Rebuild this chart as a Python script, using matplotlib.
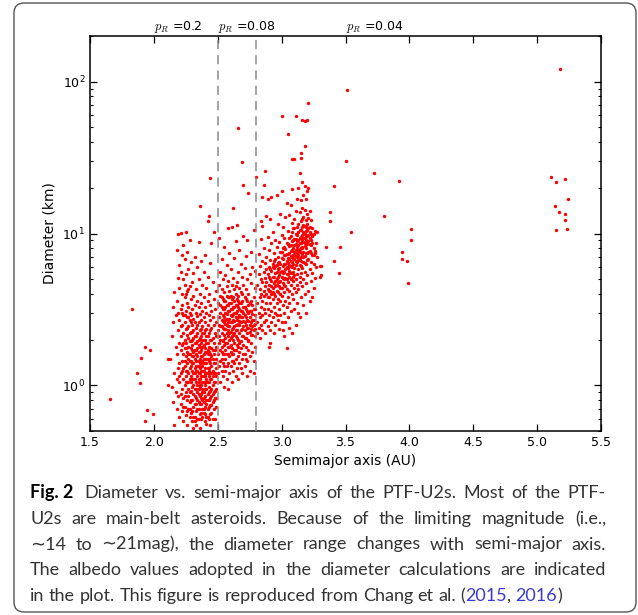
import matplotlib
matplotlib.use("Agg")
import matplotlib.pyplot as plt
from matplotlib.patches import FancyBboxPatch
from matplotlib.transforms import blended_transform_factory

# (semimajor axis [AU], diameter [km])
inner_belt = [
    (2.13, 1.5), (2.14, 2.1), (2.14, 0.98), (2.15, 3.3), (2.15, 0.78), (2.15, 2.6), (2.16, 1.2), (2.16, 0.55),
    (2.16, 4.1), (2.17, 1.8), (2.17, 0.9), (2.17, 2.9),
    (2.18, 1.1), (2.18, 3.6), (2.18, 7.8), (2.18, 1.6), (2.18, 0.7), (2.19, 2.3), (2.19, 5.1), (2.19, 1.3),
    (2.19, 0.85), (2.19, 3.0), (2.19, 9.9), (2.20, 1.9), (2.20, 0.62), (2.20, 4.4), (2.20, 1.05), (2.20, 2.7),
    (2.20, 6.2), (2.20, 1.4),
    (2.21, 0.75), (2.21, 1.7), (2.21, 3.2), (2.21, 10.1), (2.21, 2.1), (2.21, 1.2), (2.21, 5.6), (2.22, 0.95),
    (2.22, 2.5), (2.22, 1.45), (2.22, 4.0), (2.22, 0.68), (2.22, 7.2), (2.22, 1.85), (2.22, 3.4), (2.23, 1.1),
    (2.23, 2.9), (2.23, 0.82), (2.23, 1.6), (2.23, 5.0), (2.23, 2.2), (2.23, 1.3), (2.23, 8.4), (2.23, 0.58),
    (2.24, 1.75), (2.24, 3.8), (2.24, 1.0), (2.24, 2.6), (2.24, 0.72), (2.24, 1.35), (2.24, 4.6), (2.24, 2.0),
    (2.24, 6.8), (2.25, 1.15), (2.25, 0.9), (2.25, 3.1), (2.25, 1.55), (2.25, 2.35), (2.25, 0.64), (2.25, 5.4),
    (2.25, 1.9), (2.25, 10.3), (2.25, 1.25), (2.26, 2.8), (2.26, 0.8), (2.26, 1.65), (2.26, 4.2), (2.26, 1.05),
    (2.26, 2.15), (2.26, 3.5), (2.26, 0.55), (2.26, 1.4), (2.26, 7.5),
    (2.27, 0.95), (2.27, 1.8), (2.27, 2.45), (2.27, 1.2), (2.27, 3.3), (2.27, 0.7), (2.27, 5.8), (2.27, 1.5),
    (2.27, 2.05), (2.27, 0.85), (2.28, 1.1), (2.28, 2.7), (2.28, 1.6), (2.28, 4.5), (2.28, 0.62), (2.28, 1.3),
    (2.28, 3.0), (2.28, 1.95), (2.28, 0.78), (2.28, 9.0), (2.29, 1.45), (2.29, 2.25), (2.29, 0.92), (2.29, 3.7),
    (2.29, 1.15), (2.29, 1.75), (2.29, 0.66), (2.29, 2.9), (2.29, 6.5), (2.29, 1.35),
    (2.30, 0.8), (2.30, 1.25), (2.30, 2.0), (2.30, 1.55), (2.30, 3.2), (2.30, 0.98), (2.30, 4.8), (2.30, 0.58),
    (2.30, 2.5), (2.30, 1.1), (2.30, 1.85), (2.31, 1.4), (2.31, 0.72), (2.31, 2.3), (2.31, 1.0), (2.31, 3.9),
    (2.31, 1.65), (2.31, 0.88), (2.31, 2.75), (2.31, 1.2), (2.31, 5.5), (2.31, 0.52), (2.32, 1.3), (2.32, 2.1),
    (2.32, 0.95), (2.32, 1.7), (2.32, 3.4), (2.32, 0.75), (2.32, 1.1), (2.32, 2.6), (2.32, 1.5), (2.32, 7.0),
    (2.32, 0.62),
    (2.33, 1.05), (2.33, 1.9), (2.33, 0.82), (2.33, 1.45), (2.33, 2.4), (2.33, 3.0), (2.33, 0.68), (2.33, 1.25),
    (2.33, 4.3), (2.33, 1.6), (2.33, 0.55), (2.34, 1.15), (2.34, 2.2), (2.34, 0.9), (2.34, 1.35), (2.34, 1.75),
    (2.34, 2.85), (2.34, 0.7), (2.34, 1.0), (2.34, 3.6), (2.34, 6.0), (2.34, 1.55), (2.35, 0.78), (2.35, 1.2),
    (2.35, 2.0), (2.35, 0.95), (2.35, 1.45), (2.35, 2.6), (2.35, 0.6), (2.35, 1.65), (2.35, 3.3), (2.35, 1.05),
    (2.35, 5.0), (2.35, 8.8), (2.36, 15.1),
    (2.36, 1.3), (2.36, 0.85), (2.36, 1.8), (2.36, 1.1), (2.36, 2.3), (2.36, 0.65), (2.36, 1.5), (2.36, 2.95),
    (2.36, 0.98), (2.36, 4.0), (2.36, 1.2), (2.36, 0.52), (2.37, 1.7), (2.37, 0.75), (2.37, 1.0), (2.37, 2.1),
    (2.37, 1.4), (2.37, 2.7), (2.37, 0.88), (2.37, 1.25), (2.37, 3.5), (2.37, 0.6), (2.37, 6.6), (2.37, 1.9),
    (2.38, 1.15), (2.38, 0.8), (2.38, 1.55), (2.38, 2.45), (2.38, 0.95), (2.38, 1.35), (2.38, 3.1), (2.38, 0.7),
    (2.38, 1.8), (2.38, 4.6), (2.38, 2.0), (2.38, 1.05),
    (2.39, 1.25), (2.39, 0.9), (2.39, 1.6), (2.39, 2.2), (2.39, 0.66), (2.39, 1.05), (2.39, 2.8), (2.39, 1.4),
    (2.39, 3.8), (2.39, 0.78), (2.39, 1.85), (2.39, 5.6), (2.40, 1.15), (2.40, 0.85), (2.40, 1.5), (2.40, 2.0),
    (2.40, 0.58), (2.40, 1.3), (2.40, 2.6), (2.40, 1.0), (2.40, 3.3), (2.40, 1.75), (2.40, 0.72), (2.40, 7.2),
    (2.41, 1.2), (2.41, 0.95), (2.41, 1.65), (2.41, 2.35), (2.41, 0.8), (2.41, 1.4), (2.41, 3.0), (2.41, 1.1),
    (2.41, 4.4), (2.41, 0.62), (2.41, 1.9),
    (2.42, 1.3), (2.42, 0.88), (2.42, 1.7), (2.42, 2.5), (2.42, 1.05), (2.42, 0.7), (2.42, 2.1), (2.42, 3.6),
    (2.42, 1.5), (2.42, 12.0), (2.42, 5.2), (2.43, 1.15), (2.43, 0.8), (2.43, 1.45), (2.43, 2.2), (2.43, 0.98),
    (2.43, 2.9), (2.43, 1.8), (2.43, 0.6), (2.43, 4.0), (2.43, 13.1), (2.43, 1.25), (2.44, 1.6), (2.44, 0.92),
    (2.44, 2.0), (2.44, 1.2), (2.44, 2.7), (2.44, 0.74), (2.44, 3.4), (2.44, 1.4), (2.44, 23.2), (2.44, 6.4),
    (2.44, 0.55),
    (2.45, 1.1), (2.45, 1.75), (2.45, 0.85), (2.45, 2.4), (2.45, 1.35), (2.45, 3.1), (2.45, 0.66), (2.45, 8.6),
    (2.46, 1.5), (2.46, 1.0), (2.46, 2.05), (2.46, 0.78), (2.46, 2.8), (2.46, 1.25), (2.46, 4.8), (2.47, 1.2),
    (2.47, 1.9), (2.47, 0.9), (2.47, 2.5), (2.47, 0.7), (2.47, 3.7), (2.47, 1.6), (2.47, 10.2), (2.48, 1.05),
    (2.48, 1.4), (2.48, 2.2), (2.48, 0.82), (2.48, 3.2), (2.48, 0.6), (2.49, 1.3), (2.49, 1.8), (2.49, 0.95),
    (2.49, 2.6), (2.49, 0.72), (2.49, 4.2), (2.49, 1.15),
]

# densest part of the inner belt
inner_core = [
    (2.20, 1.15), (2.21, 2.45), (2.21, 0.88), (2.22, 1.25), (2.22, 3.0), (2.23, 0.72), (2.23, 1.9), (2.24, 1.45),
    (2.24, 2.9), (2.24, 0.85), (2.25, 1.75), (2.25, 4.0), (2.25, 1.05), (2.26, 2.4), (2.26, 0.68), (2.26, 1.25),
    (2.27, 1.6), (2.27, 2.8), (2.27, 1.05), (2.27, 4.3), (2.28, 0.9), (2.28, 2.2), (2.28, 1.45), (2.28, 0.7),
    (2.29, 1.95), (2.29, 1.05), (2.29, 2.6), (2.29, 0.8), (2.30, 1.4), (2.30, 0.68), (2.30, 2.25), (2.30, 1.7),
    (2.31, 1.1), (2.31, 0.62), (2.31, 1.55), (2.31, 2.05), (2.32, 0.85), (2.32, 1.2), (2.32, 1.9), (2.32, 0.58),
    (2.33, 1.35), (2.33, 0.75), (2.33, 2.1), (2.33, 0.95), (2.33, 1.7), (2.34, 0.8), (2.34, 1.25), (2.34, 1.95),
    (2.34, 0.6), (2.34, 2.5), (2.35, 1.1), (2.35, 0.7), (2.35, 1.35), (2.35, 1.85), (2.35, 0.88), (2.36, 1.0),
    (2.36, 1.4), (2.36, 0.75), (2.36, 1.65), (2.36, 2.05), (2.37, 1.15), (2.37, 0.82), (2.37, 1.55), (2.37, 0.66),
    (2.37, 2.35), (2.38, 1.25), (2.38, 0.9), (2.38, 1.45), (2.38, 0.62), (2.38, 2.2), (2.39, 1.15), (2.39, 0.82),
    (2.39, 1.5), (2.39, 0.7), (2.39, 2.0), (2.40, 1.2), (2.40, 0.95), (2.40, 1.65), (2.40, 0.65), (2.40, 2.3),
    (2.41, 1.05), (2.41, 0.75), (2.41, 1.5), (2.41, 2.1), (2.41, 0.56), (2.42, 1.2), (2.42, 0.8), (2.42, 1.6),
    (2.42, 0.62), (2.42, 1.9), (2.43, 1.05), (2.43, 0.72), (2.43, 1.3), (2.43, 1.65), (2.43, 0.9), (2.44, 1.1),
    (2.44, 0.82), (2.44, 1.5), (2.44, 0.65), (2.44, 2.3), (2.45, 1.2), (2.45, 0.95), (2.45, 1.55), (2.45, 0.74),
    (2.45, 2.0), (2.46, 1.15), (2.46, 0.88), (2.46, 1.7), (2.46, 0.6), (2.47, 1.05), (2.47, 1.4), (2.47, 0.8),
    (2.48, 1.2), (2.48, 1.7), (2.48, 0.92), (2.49, 1.5), (2.49, 2.1), (2.49, 0.82),
]

middle_belt = [
    (2.50, 2.3), (2.50, 1.6), (2.50, 3.5), (2.50, 1.2), (2.51, 2.8), (2.51, 1.9), (2.51, 4.6), (2.51, 1.35),
    (2.51, 2.1), (2.51, 9.4), (2.52, 3.0), (2.52, 1.05), (2.52, 2.45), (2.52, 1.7), (2.52, 5.6), (2.52, 3.9),
    (2.52, 1.45),
    (2.53, 2.2), (2.53, 1.25), (2.53, 3.3), (2.53, 1.8), (2.53, 2.7), (2.53, 4.3), (2.53, 1.5), (2.53, 6.8),
    (2.54, 2.0), (2.54, 2.9), (2.54, 1.15), (2.54, 3.7), (2.54, 1.6), (2.54, 2.4), (2.54, 5.0), (2.54, 1.95),
    (2.55, 2.6), (2.55, 1.35), (2.55, 3.2), (2.55, 1.85), (2.55, 4.1), (2.55, 0.98), (2.55, 2.15), (2.55, 8.2),
    (2.55, 2.8),
    (2.56, 2.35), (2.56, 1.7), (2.56, 3.0), (2.56, 1.25), (2.56, 3.6), (2.56, 2.05), (2.56, 5.3), (2.56, 1.5),
    (2.56, 2.7), (2.57, 1.9), (2.57, 2.5), (2.57, 3.4), (2.57, 1.1), (2.57, 4.5), (2.57, 2.2), (2.57, 1.6),
    (2.57, 2.95), (2.57, 6.2), (2.58, 2.1), (2.58, 3.8), (2.58, 1.4), (2.58, 2.6), (2.58, 1.8), (2.58, 3.1),
    (2.58, 0.95), (2.58, 4.9), (2.58, 2.3), (2.58, 10.8),
    (2.59, 2.75), (2.59, 1.55), (2.59, 3.5), (2.59, 2.0), (2.59, 1.2), (2.59, 4.2), (2.59, 2.45), (2.59, 7.4),
    (2.60, 1.85), (2.60, 2.9), (2.60, 3.9), (2.60, 1.35), (2.60, 2.25), (2.60, 5.8), (2.60, 1.65), (2.60, 3.2),
    (2.61, 2.6), (2.61, 1.45), (2.61, 3.7), (2.61, 2.1), (2.61, 1.05), (2.61, 4.6), (2.61, 2.85), (2.61, 11.0),
    (2.61, 1.75),
    (2.62, 2.4), (2.62, 3.3), (2.62, 1.6), (2.62, 5.1), (2.62, 2.0), (2.62, 14.7), (2.62, 1.25), (2.62, 2.95),
    (2.63, 3.6), (2.63, 1.9), (2.63, 2.65), (2.63, 1.4), (2.63, 4.3), (2.63, 2.2), (2.63, 6.9), (2.63, 3.0),
    (2.64, 2.5), (2.64, 1.7), (2.64, 3.4), (2.64, 1.15), (2.64, 2.1), (2.64, 4.0), (2.64, 2.8), (2.64, 8.9),
    (2.64, 1.5),
    (2.65, 3.1), (2.65, 2.3), (2.65, 1.85), (2.65, 4.8), (2.65, 1.3), (2.65, 2.7), (2.65, 3.7), (2.65, 11.3),
    (2.66, 2.0), (2.66, 3.3), (2.66, 1.55), (2.66, 2.55), (2.66, 5.6), (2.66, 1.1), (2.66, 3.9), (2.66, 49.7),
    (2.67, 2.2), (2.67, 2.9), (2.67, 1.65), (2.67, 4.4), (2.67, 1.4), (2.67, 3.5), (2.67, 7.8), (2.67, 2.5),
    (2.68, 1.95), (2.68, 3.1), (2.68, 2.6), (2.68, 1.3), (2.68, 4.1), (2.68, 6.3), (2.68, 1.75), (2.69, 2.35),
    (2.69, 3.6), (2.69, 1.5), (2.69, 2.8), (2.69, 5.2), (2.69, 29.4), (2.69, 1.2), (2.70, 2.1), (2.70, 3.3),
    (2.70, 1.85), (2.70, 4.6), (2.70, 2.65), (2.70, 21.0), (2.70, 9.6),
    (2.71, 2.9), (2.71, 1.6), (2.71, 3.8), (2.71, 2.3), (2.71, 5.9), (2.71, 1.35), (2.72, 2.5), (2.72, 3.2),
    (2.72, 1.8), (2.72, 4.3), (2.72, 2.05), (2.72, 7.1), (2.73, 2.7), (2.73, 1.45), (2.73, 3.6), (2.73, 2.2),
    (2.73, 5.0), (2.73, 1.15), (2.73, 9.0),
    (2.74, 2.4), (2.74, 3.0), (2.74, 1.7), (2.74, 4.0), (2.74, 18.5), (2.74, 2.0), (2.75, 2.8), (2.75, 3.5),
    (2.75, 1.55), (2.75, 2.25), (2.75, 5.4), (2.75, 1.25), (2.76, 2.6), (2.76, 3.1), (2.76, 1.9), (2.76, 4.7),
    (2.76, 2.15), (2.76, 7.6),
    (2.77, 2.45), (2.77, 3.4), (2.77, 1.65), (2.77, 2.95), (2.77, 6.0), (2.78, 2.3), (2.78, 3.8), (2.78, 1.45),
    (2.78, 2.7), (2.78, 10.5), (2.78, 1.2), (2.79, 2.55), (2.79, 3.2), (2.79, 1.8), (2.79, 4.4), (2.79, 2.1),
    (2.79, 5.7), (2.80, 23.5),
]

middle_core = [
    (2.51, 2.5), (2.52, 2.0), (2.52, 3.4), (2.53, 2.45), (2.53, 3.8), (2.53, 1.65), (2.54, 2.65), (2.54, 3.2),
    (2.54, 1.4), (2.55, 2.35), (2.55, 3.6), (2.55, 1.6), (2.56, 2.55), (2.56, 3.3), (2.56, 1.9), (2.57, 2.75),
    (2.57, 3.9), (2.57, 1.35), (2.58, 2.45), (2.58, 3.4), (2.58, 1.6), (2.59, 2.2), (2.59, 3.1), (2.59, 1.8),
    (2.59, 3.8), (2.60, 2.6), (2.60, 3.5), (2.60, 2.05), (2.61, 2.35), (2.61, 3.2), (2.61, 1.6), (2.62, 2.7),
    (2.62, 3.8), (2.62, 2.15), (2.62, 1.45), (2.63, 2.45), (2.63, 3.3), (2.63, 1.7), (2.64, 3.0), (2.64, 2.3),
    (2.64, 4.5), (2.65, 2.5), (2.65, 3.4), (2.65, 2.05), (2.66, 2.8), (2.66, 3.6), (2.66, 1.8), (2.67, 2.65),
    (2.67, 3.2), (2.67, 1.9), (2.68, 2.3), (2.68, 3.5), (2.68, 2.8), (2.69, 2.1), (2.69, 3.1), (2.69, 4.0),
    (2.70, 2.45), (2.70, 3.0), (2.70, 1.6), (2.71, 2.6), (2.71, 3.3), (2.71, 2.05), (2.72, 2.8), (2.72, 3.7),
    (2.72, 1.5), (2.73, 2.4), (2.73, 3.1), (2.74, 2.65), (2.74, 3.4), (2.74, 1.95), (2.75, 2.5), (2.75, 3.1),
    (2.76, 2.35), (2.76, 3.6), (2.77, 2.15), (2.77, 2.7), (2.78, 2.5), (2.78, 3.2), (2.79, 2.9), (2.79, 2.35),
]

outer_belt = [
    (2.81, 2.6), (2.81, 3.5), (2.81, 4.6), (2.81, 2.2), (2.82, 3.0), (2.82, 5.4), (2.82, 2.4), (2.82, 7.3),
    (2.83, 3.8), (2.83, 2.8), (2.83, 4.3), (2.83, 2.05), (2.83, 6.1), (2.84, 3.3), (2.84, 5.0), (2.84, 2.5),
    (2.84, 12.0), (2.84, 4.0), (2.84, 9.2),
    (2.85, 3.6), (2.85, 2.3), (2.85, 4.8), (2.85, 6.6), (2.85, 17.5), (2.85, 2.9), (2.85, 11.2), (2.86, 3.2),
    (2.86, 5.6), (2.86, 4.2), (2.86, 2.6), (2.86, 8.0), (2.86, 21.0), (2.86, 3.9), (2.87, 4.5), (2.87, 3.0),
    (2.87, 6.4), (2.87, 2.2), (2.87, 25.7), (2.87, 5.1), (2.88, 3.5), (2.88, 4.8), (2.88, 2.7), (2.88, 7.0),
    (2.88, 13.0), (2.88, 4.0),
    (2.89, 5.4), (2.89, 3.2), (2.89, 4.3), (2.89, 2.45), (2.89, 9.5), (2.89, 17.0), (2.90, 3.8), (2.90, 6.0),
    (2.90, 4.6), (2.90, 2.9), (2.90, 1.8), (2.90, 7.8), (2.91, 5.0), (2.91, 3.5), (2.91, 4.2), (2.91, 2.3),
    (2.91, 6.7), (2.91, 12.5), (2.91, 1.9), (2.92, 4.0), (2.92, 5.7), (2.92, 3.1), (2.92, 8.6), (2.92, 2.6),
    (2.92, 4.9), (2.92, 17.3),
    (2.93, 3.7), (2.93, 5.2), (2.93, 4.4), (2.93, 2.8), (2.93, 6.3), (2.93, 10.2), (2.94, 4.7), (2.94, 3.3),
    (2.94, 5.9), (2.94, 2.2), (2.94, 7.4), (2.94, 4.0), (2.95, 5.5), (2.95, 3.9), (2.95, 3.0), (2.95, 6.8),
    (2.95, 4.5), (2.95, 9.0), (2.95, 2.5), (2.96, 4.2), (2.96, 5.0), (2.96, 3.5), (2.96, 6.2), (2.96, 2.9),
    (2.96, 8.2), (2.96, 18.0),
    (2.97, 4.8), (2.97, 3.7), (2.97, 5.8), (2.97, 2.7), (2.97, 7.0), (2.97, 4.1), (2.97, 11.5), (2.98, 5.3),
    (2.98, 3.2), (2.98, 4.5), (2.98, 6.5), (2.98, 2.35), (2.98, 8.8), (2.99, 4.0), (2.99, 5.6), (2.99, 3.6),
    (2.99, 7.6), (2.99, 2.9), (2.99, 4.9), (2.99, 13.5), (3.00, 5.2), (3.00, 3.9), (3.00, 6.9), (3.00, 4.4),
    (3.00, 2.6), (3.00, 9.8), (3.00, 59.8), (3.00, 19.0),
    (3.01, 4.7), (3.01, 6.1), (3.01, 3.4), (3.01, 8.0), (3.01, 5.5), (3.01, 2.3), (3.01, 11.0), (3.02, 5.0),
    (3.02, 4.1), (3.02, 7.2), (3.02, 3.0), (3.02, 6.3), (3.02, 9.4), (3.02, 2.1), (3.03, 5.8), (3.03, 4.5),
    (3.03, 3.6), (3.03, 7.9), (3.03, 5.1), (3.03, 12.8), (3.03, 2.6), (3.04, 6.6), (3.04, 4.3), (3.04, 5.4),
    (3.04, 3.3), (3.04, 8.6), (3.04, 1.75), (3.04, 16.0),
    (3.05, 5.9), (3.05, 4.8), (3.05, 7.3), (3.05, 3.8), (3.05, 10.4), (3.05, 6.4), (3.05, 45.4), (3.05, 2.8),
    (3.06, 5.2), (3.06, 6.8), (3.06, 4.2), (3.06, 8.3), (3.06, 3.5), (3.06, 5.7), (3.06, 13.2), (3.06, 2.4),
    (3.07, 6.1), (3.07, 4.6), (3.07, 7.7), (3.07, 5.0), (3.07, 9.6), (3.07, 3.1), (3.07, 15.5), (3.07, 6.6),
    (3.08, 5.5), (3.08, 7.0), (3.08, 4.0), (3.08, 8.9), (3.08, 6.0), (3.08, 11.8), (3.08, 30.8), (3.08, 2.2),
    (3.08, 19.5),
    (3.09, 6.3), (3.09, 4.9), (3.09, 8.0), (3.09, 5.6), (3.09, 10.8), (3.09, 3.7), (3.09, 7.2), (3.10, 6.8),
    (3.10, 5.3), (3.10, 9.2), (3.10, 4.4), (3.10, 7.6), (3.10, 12.5), (3.10, 3.2), (3.10, 30.8), (3.10, 5.9),
    (3.11, 7.1), (3.11, 5.0), (3.11, 8.5), (3.11, 6.2), (3.11, 14.0), (3.11, 4.1), (3.11, 59.8), (3.11, 10.0),
    (3.11, 2.5), (3.12, 6.5), (3.12, 8.2), (3.12, 5.4), (3.12, 9.8), (3.12, 4.6), (3.12, 17.0), (3.12, 7.4),
    (3.12, 3.5),
    (3.13, 7.8), (3.13, 5.8), (3.13, 9.0), (3.13, 6.7), (3.13, 11.5), (3.13, 4.3), (3.13, 20.0), (3.13, 3.0),
    (3.14, 6.9), (3.14, 8.6), (3.14, 5.2), (3.14, 10.5), (3.14, 7.5), (3.14, 13.8), (3.14, 4.8), (3.14, 25.0),
    (3.14, 2.8), (3.15, 8.0), (3.15, 6.1), (3.15, 9.5), (3.15, 7.0), (3.15, 12.0), (3.15, 5.5), (3.15, 34.0),
    (3.15, 31.6), (3.15, 16.5), (3.15, 3.8), (3.16, 7.3), (3.16, 9.1), (3.16, 5.9), (3.16, 11.0), (3.16, 8.2),
    (3.16, 14.8), (3.16, 4.5), (3.16, 22.0), (3.16, 56.0),
    (3.17, 8.8), (3.17, 6.5), (3.17, 10.2), (3.17, 7.6), (3.17, 12.8), (3.17, 5.0), (3.17, 18.0), (3.17, 3.4),
    (3.18, 9.4), (3.18, 7.1), (3.18, 11.2), (3.18, 5.6), (3.18, 8.3), (3.18, 14.2), (3.18, 37.5), (3.18, 55.5),
    (3.18, 4.0), (3.18, 20.5), (3.19, 8.0), (3.19, 10.4), (3.19, 6.3), (3.19, 12.3), (3.19, 9.0), (3.19, 4.7),
    (3.19, 16.8), (3.19, 3.0), (3.20, 9.7), (3.20, 7.4), (3.20, 11.6), (3.20, 5.3), (3.20, 13.5), (3.20, 8.5),
    (3.20, 56.0), (3.20, 19.0), (3.21, 72.0),
    (3.21, 8.9), (3.21, 10.8), (3.21, 6.8), (3.21, 12.7), (3.21, 4.2), (3.21, 19.8), (3.22, 9.3), (3.22, 7.7),
    (3.22, 11.0), (3.22, 5.8), (3.22, 14.0), (3.22, 3.6), (3.23, 8.4), (3.23, 10.0), (3.23, 6.5), (3.23, 12.2),
    (3.23, 4.9), (3.24, 9.6), (3.24, 7.2), (3.24, 5.5), (3.24, 10.8), (3.24, 3.8), (3.25, 8.0), (3.25, 6.3),
    (3.25, 9.9), (3.25, 4.4), (3.26, 7.4), (3.26, 10.4), (3.26, 5.1), (3.27, 8.6), (3.27, 6.0), (3.28, 10.2),
    (3.28, 7.0), (3.30, 5.2), (3.30, 6.1),
]

outer_core = [
    (2.88, 5.8), (2.89, 3.8), (2.90, 5.2), (2.90, 4.2), (2.91, 5.8), (2.92, 4.5), (2.93, 6.0), (2.93, 4.1),
    (2.94, 5.2), (2.94, 6.6), (2.95, 4.9), (2.95, 6.1), (2.96, 4.6), (2.96, 5.6), (2.97, 5.2), (2.97, 6.4),
    (2.98, 4.8), (2.98, 5.9), (2.99, 6.3), (2.99, 4.4), (3.00, 5.7), (3.00, 7.6), (3.01, 5.1), (3.01, 6.8),
    (3.02, 5.6), (3.02, 4.6), (3.02, 8.2), (3.03, 6.3), (3.03, 7.2), (3.04, 5.0), (3.04, 7.3), (3.04, 6.0),
    (3.05, 6.9), (3.05, 5.4), (3.05, 8.5), (3.06, 6.2), (3.06, 7.4), (3.06, 9.4), (3.07, 5.5), (3.07, 7.1),
    (3.07, 8.4), (3.08, 6.5), (3.08, 7.8), (3.08, 10.2), (3.09, 6.9), (3.09, 9.0), (3.09, 5.2), (3.10, 7.2),
    (3.10, 8.4), (3.10, 10.8), (3.11, 6.6), (3.11, 7.8), (3.11, 9.2), (3.12, 7.0), (3.12, 8.9), (3.12, 11.0),
    (3.13, 7.2), (3.13, 8.4), (3.13, 10.2), (3.14, 7.9), (3.14, 9.4), (3.14, 6.2), (3.15, 8.7), (3.15, 10.6),
    (3.15, 6.6), (3.16, 8.0), (3.16, 9.8), (3.16, 12.4), (3.17, 9.4), (3.17, 7.0), (3.17, 11.4), (3.18, 8.7),
    (3.18, 10.0), (3.18, 6.4), (3.19, 9.7), (3.19, 7.4), (3.19, 11.0), (3.20, 8.9), (3.20, 10.5), (3.20, 6.7),
    (3.21, 9.8), (3.21, 7.6), (3.22, 8.5), (3.22, 10.2), (3.23, 9.1), (3.23, 7.4), (3.24, 8.6), (3.25, 7.2),
]

# sparse objects outside the main clusters
scattered = [
    (1.66, 0.81), (1.83, 3.2), (1.93, 1.78), (1.97, 1.70), (1.90, 1.51), (1.87, 1.20), (1.89, 1.03),
    (1.95, 0.69), (1.99, 0.65), (1.93, 0.58), (2.11, 1.50), (2.11, 1.0),
    (3.26, 7.7), (3.31, 6.1), (3.31, 5.3), (3.35, 8.1), (3.38, 13.8), (3.38, 12.1), (3.41, 20.5),
    (3.41, 6.6), (3.45, 5.5), (3.46, 8.1), (3.50, 29.9), (3.51, 88.7), (3.54, 10.2), (3.72, 25.2),
    (3.80, 13.1), (3.92, 22.1), (3.94, 7.6), (3.94, 6.8), (3.98, 6.6), (3.99, 4.7), (4.01, 10.7),
    (4.01, 9.0),
    (5.11, 23.4), (5.15, 21.8), (5.22, 22.9), (5.24, 16.8), (5.14, 15.2), (5.17, 13.8), (5.22, 13.5),
    (5.22, 12.3), (5.15, 10.5), (5.23, 10.7), (5.18, 122.0),
]

boundaries = [2.5, 2.8]
albedo_pos = [2.0, 2.5, 3.5]
albedo_values = ["0.2", "0.08", "0.04"]
x_ticks = [1.5, 2.0, 2.5, 3.0, 3.5, 4.0, 4.5, 5.0, 5.5]

caption_lines = [
    "Diameter vs. semi-major axis of the PTF-U2s. Most of the PTF-",
    "U2s are main-belt asteroids. Because of the limiting magnitude (i.e.,",
    "\u223c14 to \u223c21mag), the diameter range changes with semi-major axis.",
    "The albedo values adopted in the diameter calculations are indicated",
    "in the plot. This figure is reproduced from Chang et al. (2015, 2016)",
]

W, H = 638, 615
fig = plt.figure(figsize=(W / 100, H / 100), dpi=100)

ax = fig.add_axes([90 / W, 1 - 431 / H, (601 - 90) / W, (431 - 36) / H])
for pts in (inner_belt, inner_core, middle_belt, middle_core, outer_belt, outer_core, scattered):
    a, d = zip(*pts)
    ax.scatter(a, d, s=6, c="red", marker="o", linewidths=0, zorder=2)

for b in boundaries:
    ax.axvline(b, color="#8a8a8a", ls=(0, (6, 4)), lw=1.1, zorder=3)

ax.set_yscale("log")
ax.set_xlim(1.5, 5.5)
ax.set_ylim(0.5, 200)
ax.set_xticks(x_ticks)
ax.set_xticklabels([f"{t:.1f}" for t in x_ticks])
ax.tick_params(which="both", direction="in", top=True, right=True, labelsize=9)
ax.tick_params(which="major", length=5, width=0.9)
ax.tick_params(which="minor", length=2.5, width=0.8)
for sp in ax.spines.values():
    sp.set_linewidth(1.1)
ax.set_xlabel("Semimajor axis (AU)", fontsize=10)
ax.set_ylabel("Diameter (km)", fontsize=10)

trans = blended_transform_factory(ax.transData, ax.transAxes)
for xp, val in zip(albedo_pos, albedo_values):
    ax.text(xp, 1.016, r"$p_R$" + " =" + val, transform=trans, ha="left", va="baseline",
            fontsize=9, math_fontfamily="cm")

# rounded frame around figure + caption
frame = FancyBboxPatch((14 / W, 3 / H), (636 - 14) / W, (612 - 3) / H,
                       boxstyle="round,pad=0,rounding_size=0.016",
                       transform=fig.transFigure, fill=False, ec="#555555", lw=1.0)
fig.patches.append(frame)

# caption, justified word by word
fig.canvas.draw()
renderer = fig.canvas.get_renderer()
cap_kw = dict(family=["Lato", "DejaVu Sans"], size=13)


def width_of(s, **kw):
    t = fig.text(0, 0, s, **kw)
    w = t.get_window_extent(renderer).width
    t.remove()
    return w


space_w = width_of("x x", **cap_kw) - width_of("xx", **cap_kw)
x_left, x_right = 30, 606
baselines = [498, 524, 549.5, 575, 601]

for i, line in enumerate(caption_lines):
    words = []
    if i == 0:
        words.append([("Fig. 2", dict(color="black", weight="bold"))])
    for w in line.split(" "):
        pieces = []
        for yr in ("2015", "2016"):
            if yr in w:
                pre, post = w.split(yr)
                if pre:
                    pieces.append((pre, dict(color="#333333")))
                pieces.append((yr, dict(color="#3a3ad6")))
                if post:
                    pieces.append((post, dict(color="#333333")))
                break
        else:
            pieces.append((w, dict(color="#333333")))
        words.append(pieces)

    widths = [[width_of(p, **cap_kw, **st) for p, st in wd] for wd in words]
    total = sum(sum(ws) for ws in widths)
    extra_first = 4 if i == 0 else 0
    if i < len(caption_lines) - 1:
        gap = (x_right - x_left - total - extra_first) / (len(words) - 1)
    else:
        gap = space_w
    x = x_left
    for j, (wd, ws) in enumerate(zip(words, widths)):
        for (p, st), pw in zip(wd, ws):
            fig.text(x / W, 1 - baselines[i] / H, p, ha="left", va="baseline", **cap_kw, **st)
            x += pw
        x += gap + (extra_first if j == 0 else 0)

fig.savefig("out.png", dpi=100)
